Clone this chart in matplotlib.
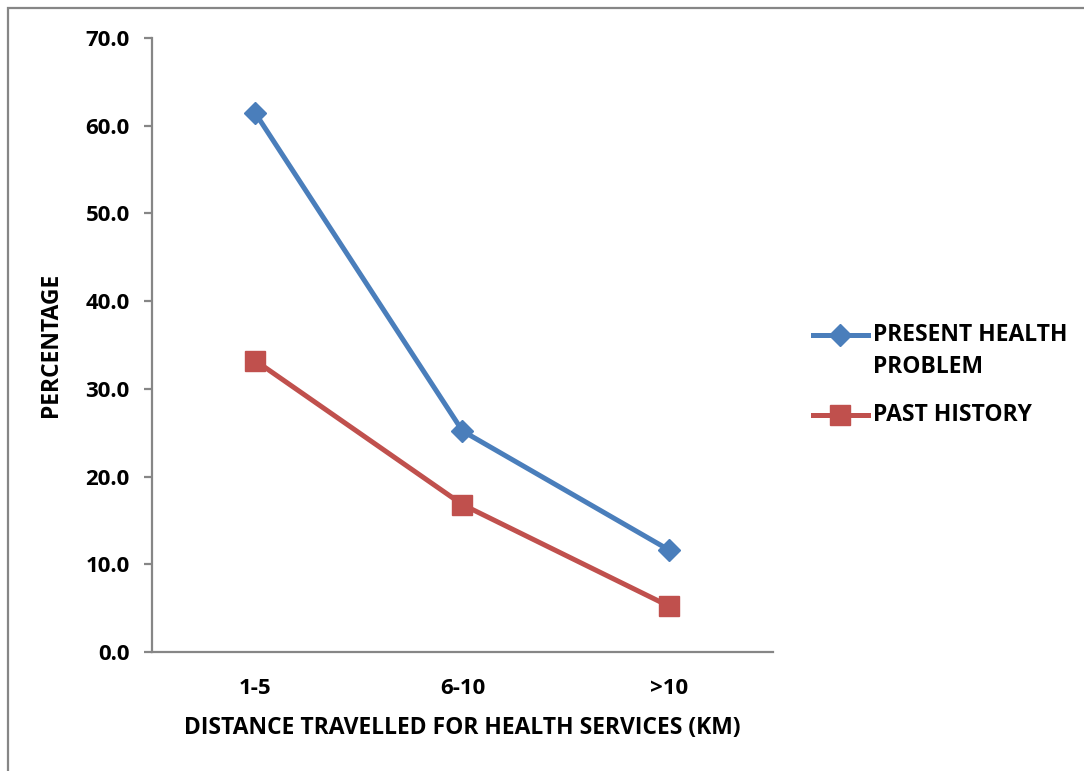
import matplotlib.pyplot as plt
from matplotlib.lines import Line2D
from matplotlib.patches import Rectangle

# -------------------------------
# Data
# -------------------------------
distance = ['1-5', '6-10', '>10']
present_problem = [61.4, 25.2, 11.6]
past_history = [33.2, 16.8, 5.2]
y_ticks = [0, 10, 20, 30, 40, 50, 60, 70]

BLUE = '#4A7EBB'
RED = '#C0504D'
AXIS = '#868686'
FS_TICK = 16
FS = 16.5

plt.rcParams['font.family'] = ['Open Sans', 'DejaVu Sans']
plt.rcParams['font.weight'] = 'bold'

W, H = 1084, 771
fig = plt.figure(figsize=(W / 100, H / 100), dpi=100)

# axes box in pixel terms: left 152, right 773, top 38, bottom 652
ax = fig.add_axes([152 / W, 1 - 652 / H, (773 - 152) / W, (652 - 38) / H])

x = range(len(distance))
ax.plot(x, present_problem, color=BLUE, lw=3.6, marker='D', ms=11,
        mfc=BLUE, mec=BLUE, solid_capstyle='butt')
ax.plot(x, past_history, color=RED, lw=3.6, marker='s', ms=14,
        mfc=RED, mec=RED, solid_capstyle='butt')

ax.set_xlim(-0.5, len(distance) - 0.5)
ax.set_ylim(0, 70)
ax.set_yticks(y_ticks)
ax.set_yticklabels([f'{v:.1f}' for v in y_ticks])
ax.set_xticks(list(x))
ax.set_xticklabels(distance)

for side in ['top', 'right']:
    ax.spines[side].set_visible(False)
for side in ['left', 'bottom']:
    ax.spines[side].set_color(AXIS)
    ax.spines[side].set_linewidth(1.6)

ax.tick_params(axis='y', direction='out', length=6, width=1.6, color=AXIS,
               labelsize=FS_TICK, pad=10)
ax.tick_params(axis='x', length=0, labelsize=FS_TICK, pad=19)
for lbl in ax.get_xticklabels() + ax.get_yticklabels():
    lbl.set_fontweight('bold')

ax.set_xlabel('DISTANCE TRAVELLED FOR HEALTH SERVICES (KM)', fontsize=FS,
              fontweight='bold', labelpad=12)
ax.set_ylabel('PERCENTAGE', fontsize=FS, fontweight='bold', labelpad=16)

# legend on the right, handle lined up with the first text line
def px(xp, yp):
    return xp / W, 1 - yp / H

entries = [
    (BLUE, 'D', 11, 'PRESENT HEALTH\nPROBLEM', 335),
    (RED, 's', 14, 'PAST HISTORY', 415),
]
for color, marker, ms, label, yp in entries:
    x0, y0 = px(813, yp)
    x1, _ = px(868, yp)
    xm, _ = px(840, yp)
    fig.add_artist(Line2D([x0, x1], [y0, y0], color=color, lw=3.6,
                          transform=fig.transFigure))
    fig.add_artist(Line2D([xm], [y0], color=color, marker=marker, ms=ms,
                          transform=fig.transFigure))
    for i, line in enumerate(label.split('\n')):
        tx, ty = px(873, yp + 32 * i)
        fig.text(tx, ty, line, fontsize=FS, fontweight='bold',
                 va='center', ha='left')

# outer chart border
fig.add_artist(Rectangle(px(8, 800), (W + 20) / W, (800 - 8) / H,
                         transform=fig.transFigure, fill=False,
                         edgecolor=AXIS, lw=1.6))

fig.savefig('out.png', dpi=100)
